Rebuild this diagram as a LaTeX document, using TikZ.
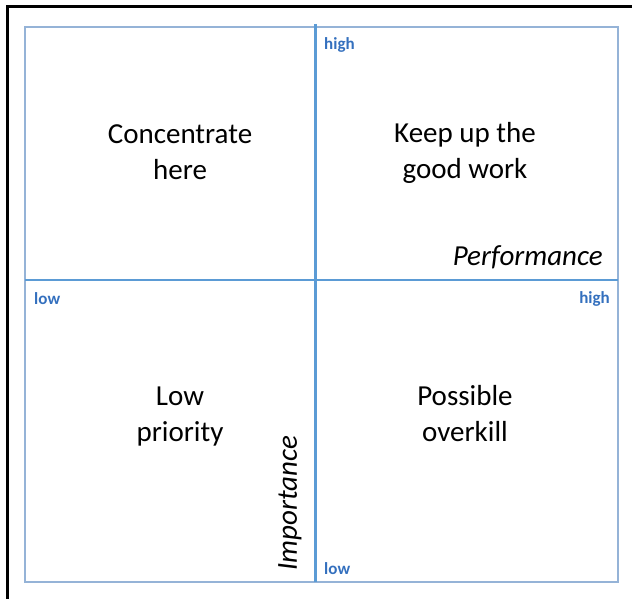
\documentclass[tikz,border=0pt]{standalone}
\usepackage{fontspec}
\setmainfont{Carlito}
\usepackage{tikz}

\definecolor{framebl}{RGB}{149,179,215}
\definecolor{axisbl}{RGB}{91,155,213}
\definecolor{labelbl}{RGB}{52,112,190}

\tikzset{
  quad/.style={align=center,font=\fontsize{29}{36}\selectfont,inner sep=0pt},
  axlabel/.style={font=\fontsize{29}{35}\selectfont\itshape,inner sep=0pt},
  endlabel/.style={font=\fontsize{17}{20}\selectfont\bfseries,text=labelbl,inner sep=0pt}
}

\begin{document}
\begin{tikzpicture}[x=1pt,y=-1pt]
\useasboundingbox (0,0) rectangle (632,599);
% page edge
\draw[line width=3pt] (632,7) -- (7,7) -- (7,599);
% outer frame
\draw[framebl,line width=2.2pt] (25,27) rectangle (618,582);
% axes
\coordinate (vtop) at (315.5,24);
\coordinate (vbot) at (315.5,582);
\coordinate (hleft) at (25,280);
\coordinate (hright) at (618,280);
\draw[axisbl,line width=2.5pt] (vtop) -- (vbot);
\draw[axisbl,line width=2.5pt] (hleft) -- (hright);
% axis ends
\node[endlabel,anchor=west] (imphigh) at (324,45) {high};
\node[endlabel,anchor=west] (implow) at (324,569) {low};
\node[endlabel,anchor=west] (perflow) at (34,299) {low};
\node[endlabel,anchor=east] (perfhigh) at (610,299) {high};
% axis names
\node[axlabel,anchor=east] (perf) at (603,257) {Performance};
\node[axlabel,rotate=90] (imp) at (290,503) {Importance};
% quadrants
\node[quad] (concentrate) at (180,152) {Concentrate\\here};
\node[quad] (keepup) at (465,153) {Keep up the\\good work};
\node[quad] (lowprio) at (180,417) {Low\\priority};
\node[quad] (overkill) at (465,414) {Possible\\overkill};
\end{tikzpicture}
\end{document}
